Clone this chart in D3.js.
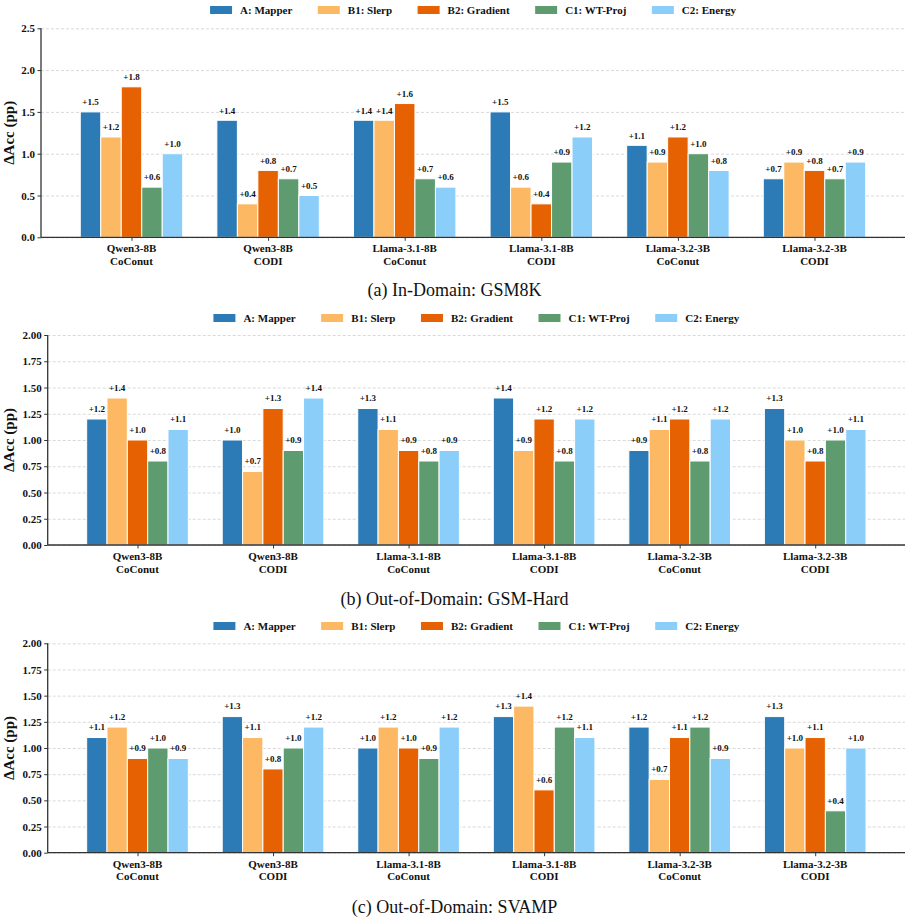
<!DOCTYPE html>
<html>
<head>
<meta charset="utf-8">
<script src="https://cdn.jsdelivr.net/npm/d3@7"></script>
<style>
  html, body { margin: 0; padding: 0; background: #fff; }
  svg { display: block; }
  text { font-family: "Liberation Serif", "Times New Roman", serif; }
</style>
</head>
<body>
<svg id="chart" width="909" height="920"></svg>
<script>
// ---------------- DATA ----------------
const categoriesTop = ["Qwen3-8B", "Qwen3-8B", "Llama-3.1-8B", "Llama-3.1-8B", "Llama-3.2-3B", "Llama-3.2-3B"];
const categoriesBottom = ["CoConut", "CODI", "CoConut", "CODI", "CoConut", "CODI"];
const methods = ["A: Mapper", "B1: Slerp", "B2: Gradient", "C1: WT-Proj", "C2: Energy"];
const methodColors = ["#2c7bb6", "#fdb863", "#e66101", "#5e9c6f", "#8ccefa"];

// rows = methods, columns = categories
const gsm8k = [
  [1.5, 1.4, 1.4, 1.5, 1.1, 0.7],
  [1.2, 0.4, 1.4, 0.6, 0.9, 0.9],
  [1.8, 0.8, 1.6, 0.4, 1.2, 0.8],
  [0.6, 0.7, 0.7, 0.9, 1.0, 0.7],
  [1.0, 0.5, 0.6, 1.2, 0.8, 0.9]
];
const gsmHard = [
  [1.2, 1.0, 1.3, 1.4, 0.9, 1.3],
  [1.4, 0.7, 1.1, 0.9, 1.1, 1.0],
  [1.0, 1.3, 0.9, 1.2, 1.2, 0.8],
  [0.8, 0.9, 0.8, 0.8, 0.8, 1.0],
  [1.1, 1.4, 0.9, 1.2, 1.2, 1.1]
];
const svamp = [
  [1.1, 1.3, 1.0, 1.3, 1.2, 1.3],
  [1.2, 1.1, 1.2, 1.4, 0.7, 1.0],
  [0.9, 0.8, 1.0, 0.6, 1.1, 1.1],
  [1.0, 1.0, 0.9, 1.2, 1.2, 0.4],
  [0.9, 1.2, 1.2, 1.1, 0.9, 1.0]
];
const ticksA = [0, 0.5, 1.0, 1.5, 2.0, 2.5];
const ticksBC = [0, 0.25, 0.5, 0.75, 1.0, 1.25, 1.5, 1.75, 2.0];
const captions = ["(a) In-Domain: GSM8K", "(b) Out-of-Domain: GSM-Hard", "(c) Out-of-Domain: SVAMP"];
const yLabel = "ΔAcc (pp)";

// ---------------- LAYOUT ----------------
const panels = [
  { data: gsm8k, ticks: ticksA, fmt: ".1f", ymax: 2.5, left: 41, right: 905, y0: 237.3, ytop: 28.3, legendY: 10, captionY: 296, caption: captions[0] },
  { data: gsmHard, ticks: ticksBC, fmt: ".2f", ymax: 2.0, left: 47.7, right: 905, y0: 545, ytop: 335, legendY: 318, captionY: 605, caption: captions[1] },
  { data: svamp, ticks: ticksBC, fmt: ".2f", ymax: 2.0, left: 47.7, right: 905, y0: 852.7, ytop: 643.3, legendY: 626, captionY: 913, caption: captions[2] }
];

const svg = d3.select("#chart");
const barW = 0.15;
const nGroups = categoriesTop.length;
const xPad = 0.05 * (nGroups - 1 + 5 * barW);
const colGap = 25.5;

panels.forEach(p => {
  const g = svg.append("g");
  const x = d3.scaleLinear()
    .domain([-2.5 * barW - xPad, (nGroups - 1) + 2.5 * barW + xPad])
    .range([p.left, p.right]);
  const y = d3.scaleLinear().domain([0, p.ymax]).range([p.y0, p.ytop]);

  // grid
  g.append("g")
    .attr("transform", `translate(${p.left},0)`)
    .call(d3.axisLeft(y).tickValues(p.ticks).tickSize(-(p.right - p.left)).tickFormat(""))
    .call(s => s.select(".domain").remove())
    .call(s => s.selectAll("line").attr("stroke", "#cfcfcf").attr("stroke-width", 0.8).attr("stroke-dasharray", "3,2"));

  // bars
  p.data.forEach((row, j) => {
    const off = (j - 2) * barW;
    g.append("g").selectAll("rect").data(row).join("rect")
      .attr("x", (d, i) => x(i + off - barW / 2))
      .attr("width", (d, i) => x(i + off + barW / 2) - x(i + off - barW / 2))
      .attr("y", d => y(d))
      .attr("height", d => y(0) - y(d))
      .attr("fill", methodColors[j])
      .attr("stroke", "#fff")
      .attr("stroke-width", 1);
    g.append("g").selectAll("text").data(row).join("text")
      .attr("x", (d, i) => x(i + off))
      .attr("y", d => y(d + 0.02) - 5)
      .attr("text-anchor", "middle")
      .attr("font-size", 9)
      .attr("font-weight", "bold")
      .attr("fill", "#111")
      .text(d => "+" + d3.format(".1f")(d));
  });

  // y axis
  const ya = g.append("g")
    .attr("transform", `translate(${p.left},0)`)
    .call(d3.axisLeft(y).tickValues(p.ticks).tickFormat(d3.format(p.fmt)).tickSize(3.5).tickPadding(2.5));
  ya.select(".domain").attr("stroke", "#333").attr("stroke-width", 1.3).attr("d", `M0,${p.y0}V${p.ytop}`);
  ya.selectAll(".tick line").attr("stroke", "#333");
  ya.selectAll(".tick text").attr("font-size", 11).attr("font-weight", "bold").attr("fill", "#111")
    .attr("font-family", "Liberation Serif, serif");

  // x axis
  const xa = g.append("g")
    .attr("transform", `translate(0,${p.y0})`)
    .call(d3.axisBottom(x).tickValues(d3.range(nGroups)).tickFormat("").tickSize(3.5));
  xa.select(".domain").attr("stroke", "#333").attr("stroke-width", 1.3).attr("d", `M${p.left},0H${p.right}`);
  xa.selectAll(".tick line").attr("stroke", "#333");
  const lbl = g.append("g").selectAll("text").data(d3.range(nGroups)).join("text")
    .attr("x", i => x(i))
    .attr("y", p.y0 + 15)
    .attr("text-anchor", "middle")
    .attr("font-size", 11)
    .attr("font-weight", "bold")
    .attr("fill", "#111");
  lbl.append("tspan").attr("x", i => x(i)).attr("dy", 0).text(i => categoriesTop[i]);
  lbl.append("tspan").attr("x", i => x(i)).attr("dy", 12.5).text(i => categoriesBottom[i]);

  // y label
  g.append("text")
    .attr("transform", `translate(14,${(p.y0 + p.ytop) / 2}) rotate(-90)`)
    .attr("text-anchor", "middle")
    .attr("font-size", 15)
    .attr("font-weight", "bold")
    .attr("fill", "#111")
    .text(yLabel);

  // legend
  const lg = g.append("g");
  const items = lg.selectAll("g").data(methods).join("g");
  items.append("rect").attr("width", 22).attr("height", 8).attr("y", -4)
    .attr("fill", (d, i) => methodColors[i]);
  items.append("text").attr("x", 30).attr("y", 4)
    .attr("font-size", 11).attr("font-weight", "bold").attr("fill", "#111")
    .text(d => d);
  let cx = 0;
  items.each(function () {
    const w = d3.select(this).select("text").node().getComputedTextLength();
    d3.select(this).attr("transform", `translate(${cx},0)`);
    cx += 30 + w + colGap;
  });
  const total = cx - colGap;
  const mid = (p.left + p.right) / 2;
  lg.attr("transform", `translate(${mid - total / 2},${p.legendY})`);

  // caption
  svg.append("text")
    .attr("x", 454.5).attr("y", p.captionY)
    .attr("text-anchor", "middle")
    .attr("font-size", 18)
    .attr("fill", "#111")
    .text(p.caption);
});
</script>
</body>
</html>
